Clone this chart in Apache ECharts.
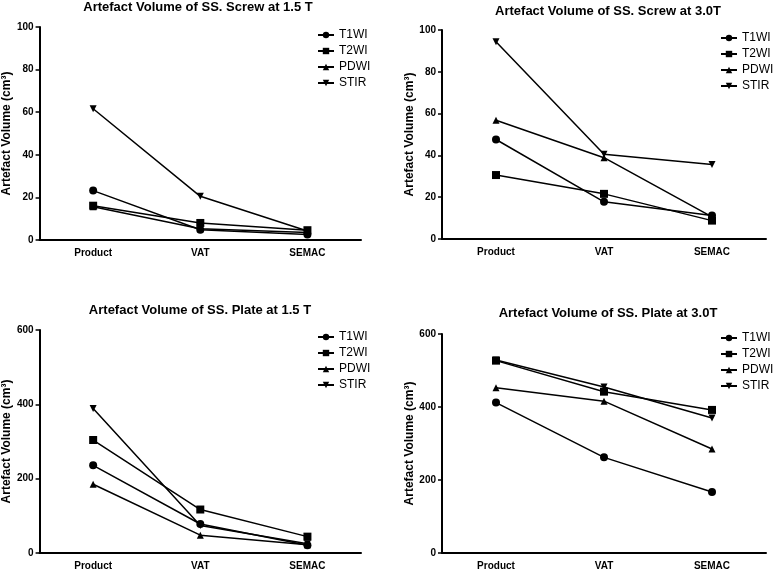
<!DOCTYPE html>
<html>
<head>
<meta charset="utf-8">
<script src="https://cdn.jsdelivr.net/npm/echarts@6/dist/echarts.min.js"></script>
<style>
  html, body { margin: 0; padding: 0; background: #fff; }
  #container { width: 775px; height: 571px; }
</style>
</head>
<body>
<div id="container"></div>
<script>
var categories = ['Product', 'VAT', 'SEMAC'];
var seriesNames = ['T1WI', 'T2WI', 'PDWI', 'STIR'];

// screw 1.5 T
var screw15T1 = [23.2, 4.8, 2.6];
var screw15T2 = [16.1, 8.0, 4.6];
var screw15PD = [15.6, 5.3, 3.5];
var screw15ST = [61.6, 20.5, 4.2];

// screw 3.0 T
var screw30T1 = [47.6, 17.8, 11.2];
var screw30T2 = [30.6, 21.6, 8.8];
var screw30PD = [56.8, 38.9, 10.6];
var screw30ST = [94.4, 40.6, 35.7];

// plate 1.5 T
var plate15T1 = [236, 78, 21];
var plate15T2 = [304, 117, 44];
var plate15PD = [185, 48, 22];
var plate15ST = [389, 74, 25];

// plate 3.0 T
var plate30T1 = [412, 262, 167];
var plate30T2 = [527, 442, 392];
var plate30PD = [453, 416, 285];
var plate30ST = [529, 455, 370];

var titles = [
    'Artefact Volume of SS. Screw at 1.5 T',
    'Artefact Volume of SS. Screw at 3.0T',
    'Artefact Volume of SS. Plate at 1.5 T',
    'Artefact Volume of SS. Plate at 3.0T'
];
var yMax = [100, 100, 600, 600];
var yStep = [20, 20, 200, 200];
var panelData = [
    [screw15T1, screw15T2, screw15PD, screw15ST],
    [screw30T1, screw30T2, screw30PD, screw30ST],
    [plate15T1, plate15T2, plate15PD, plate15ST],
    [plate30T1, plate30T2, plate30PD, plate30ST]
];

var grids = [
    { left: 39, top: 27, width: 322, height: 213 },
    { left: 442, top: 30, width: 324, height: 209 },
    { left: 39, top: 330, width: 322, height: 224 },
    { left: 442, top: 334, width: 324, height: 220 }
];
var titlePos = [[198, 1], [608, 5], [200, 304], [608, 307]];
var legendPos = [[317, 29], [720, 32], [317, 331], [720, 332]];

var symbols = ['circle', 'rect', 'triangle', 'triangle'];
var symbolSizes = [8, 8, 7, 7];
var symbolRot = [0, 0, 0, 180];

var font = 'Liberation Sans, Arial, sans-serif';

var option = {
    backgroundColor: '#fff',
    animation: false,
    title: [],
    legend: [],
    grid: [],
    xAxis: [],
    yAxis: [],
    series: []
};

grids.forEach(function (g, i) {
    option.title.push({
        text: titles[i],
        left: titlePos[i][0],
        top: titlePos[i][1],
        padding: 0,
        textAlign: 'center',
        textStyle: { fontFamily: font, fontSize: 13, fontWeight: 'bold', color: '#000' }
    });
    option.grid.push(g);
    option.xAxis.push({
        type: 'category',
        gridIndex: i,
        data: categories,
        axisLine: { lineStyle: { color: '#000', width: 2 } },
        axisTick: { alignWithLabel: true, length: 4, lineStyle: { color: '#000', width: 1.5 } },
        axisLabel: { color: '#000', fontFamily: font, fontSize: 10, fontWeight: 'bold', margin: 8 },
        splitLine: { show: false }
    });
    option.yAxis.push({
        type: 'value',
        gridIndex: i,
        min: 0,
        max: yMax[i],
        interval: yStep[i],
        name: 'Artefact Volume (cm³)',
        nameLocation: 'middle',
        nameGap: 18,
        nameTextStyle: { color: '#000', fontFamily: font, fontSize: 12, fontWeight: 'bold' },
        axisLine: { show: true, lineStyle: { color: '#000', width: 2 } },
        axisTick: { show: true, length: 4, lineStyle: { color: '#000', width: 1.5 } },
        axisLabel: { color: '#000', fontFamily: font, fontSize: 10, fontWeight: 'bold', margin: 6 },
        splitLine: { show: false }
    });
    option.legend.push({
        data: seriesNames,
        orient: 'vertical',
        left: legendPos[i][0],
        top: legendPos[i][1],
        padding: 0,
        itemGap: 4,
        itemWidth: 16,
        itemHeight: 8,
        textStyle: { color: '#000', fontFamily: font, fontSize: 12 }
    });
    seriesNames.forEach(function (name, k) {
        option.series.push({
            type: 'line',
            name: name,
            xAxisIndex: i,
            yAxisIndex: i,
            data: panelData[i][k],
            symbol: symbols[k],
            symbolSize: symbolSizes[k],
            symbolRotate: symbolRot[k],
            showAllSymbol: true,
            lineStyle: { color: '#000', width: 1.5 },
            itemStyle: { color: '#000' },
            emphasis: { disabled: true }
        });
    });
});

var myChart = echarts.init(document.getElementById('container'));
myChart.setOption(option);
</script>
</body>
</html>
